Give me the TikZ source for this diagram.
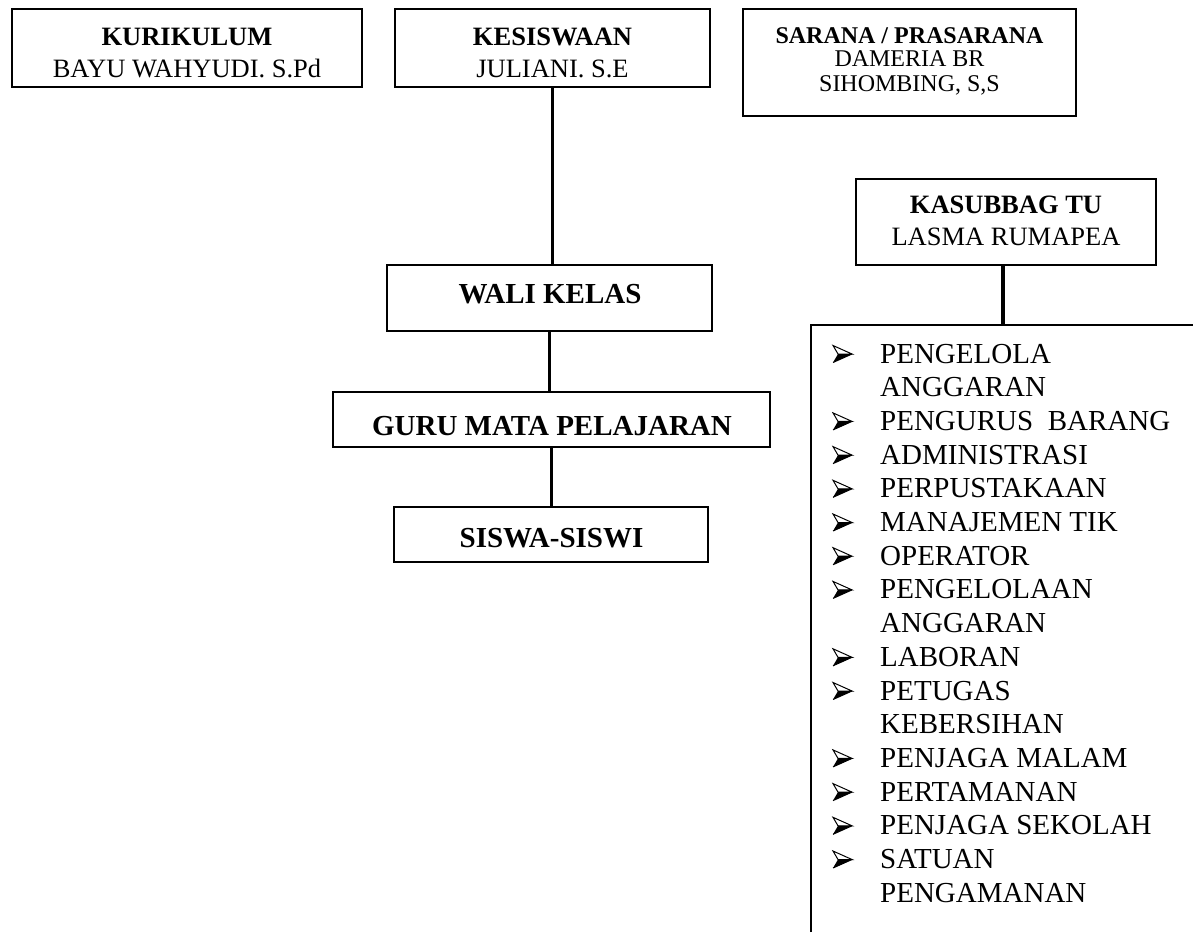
\documentclass[tikz,border=0pt]{standalone}
\usepackage{fontspec}
\setmainfont{Liberation Serif}
\begin{document}
\begin{tikzpicture}[x=1pt,y=-1pt,
  boxst/.style={draw, line width=1.7pt, inner sep=0pt},
  conn/.style={line width=3.6pt},
  hdr/.style={anchor=base, inner sep=0pt, font=\fontsize{26.5}{30}\selectfont\bfseries},
  nm/.style={anchor=base, inner sep=0pt, font=\fontsize{26.5}{30}\selectfont},
  shdr/.style={anchor=base, inner sep=0pt, font=\fontsize{24}{28}\selectfont\bfseries},
  snm/.style={anchor=base, inner sep=0pt, font=\fontsize{24}{28}\selectfont},
  mid/.style={anchor=base, inner sep=0pt, font=\fontsize{29}{33}\selectfont\bfseries},
  itm/.style={anchor=base west, inner sep=0pt, font=\fontsize{29}{33}\selectfont},
  bulpic/.pic={
    \fill[black] (0,8.5) -- (19,0) -- (5,0) -- cycle;
    \draw[line width=1pt, line join=miter] (0,-8.5) -- (19,0) -- (5,0) -- cycle;
    \draw[line width=1pt] (0,8.5) -- (19,0);
  }
]
\useasboundingbox (0,0) rectangle (1193,932);
\fill[white] (0,0) rectangle (1193,932);

% boxes
\node[boxst, minimum width=350pt, minimum height=78pt] (kur) at (187,48) {};
\node[boxst, minimum width=315pt, minimum height=78pt] (kes) at (552.5,48) {};
\node[boxst, minimum width=333pt, minimum height=107pt] (sar) at (909.5,62.5) {};
\node[boxst, minimum width=300pt, minimum height=86pt] (kas) at (1006,222) {};
\node[boxst, minimum width=325pt, minimum height=66pt] (wali) at (549.5,298) {};
\node[boxst, minimum width=437pt, minimum height=55pt] (guru) at (551.5,419.5) {};
\node[boxst, minimum width=314pt, minimum height=55pt] (sis) at (551,534.5) {};

% box texts
\node[hdr] (kurT) at (187,45) {KURIKULUM};
\node[nm] (kurN) at (187,77) {BAYU WAHYUDI. S.Pd};
\node[hdr] (kesT) at (552.5,45) {KESISWAAN};
\node[nm] (kesN) at (552.5,77) {JULIANI. S.E};
\node[shdr] (sarT) at (909.5,43) {SARANA / PRASARANA};
\node[snm] (sarN1) at (909.5,66) {DAMERIA BR};
\node[snm] (sarN2) at (909.5,91) {SIHOMBING, S,S};
\node[hdr] (kasT) at (1006,213) {KASUBBAG TU};
\node[nm] (kasN) at (1006,245) {LASMA RUMAPEA};
\node[mid] (waliT) at (550,303) {WALI KELAS};
\node[mid] (guruT) at (552,435) {GURU MATA PELAJARAN};
\node[mid] (sisT) at (551.5,547) {SISWA-SISWI};

% open list frame
\coordinate (lbot) at (811,932);
\coordinate (ltl) at (811,325);
\coordinate (ltr) at (1193,325);
\coordinate (ltop) at (1003,325);
\draw[line width=1.7pt] (lbot) -- (ltl) -- (ltr);

% connectors
\draw[conn] (kes.south) -- (kes.south |- wali.north);
\draw[conn] (wali.south) -- (wali.south |- guru.north);
\draw[conn] (guru.south) -- (guru.south |- sis.north);
\draw[conn] (kas.south -| ltop) -- (ltop);

% list
\foreach \k/\b/\t in {0/1/PENGELOLA, 1/0/ANGGARAN, 2/1/PENGURUS~~BARANG, 3/1/ADMINISTRASI,
  4/1/PERPUSTAKAAN, 5/1/MANAJEMEN TIK, 6/1/OPERATOR, 7/1/PENGELOLAAN, 8/0/ANGGARAN,
  9/1/LABORAN, 10/1/PETUGAS, 11/0/KEBERSIHAN, 12/1/PENJAGA MALAM, 13/1/PERTAMANAN,
  14/1/PENJAGA SEKOLAH, 15/1/SATUAN, 16/0/PENGAMANAN}{
  \node[itm] (it\k) at (880,363+33.7*\k) {\t};
  \ifnum\b=1
    \pic at (833,354+33.7*\k) {bulpic};
  \fi
}
\end{tikzpicture}
\end{document}
